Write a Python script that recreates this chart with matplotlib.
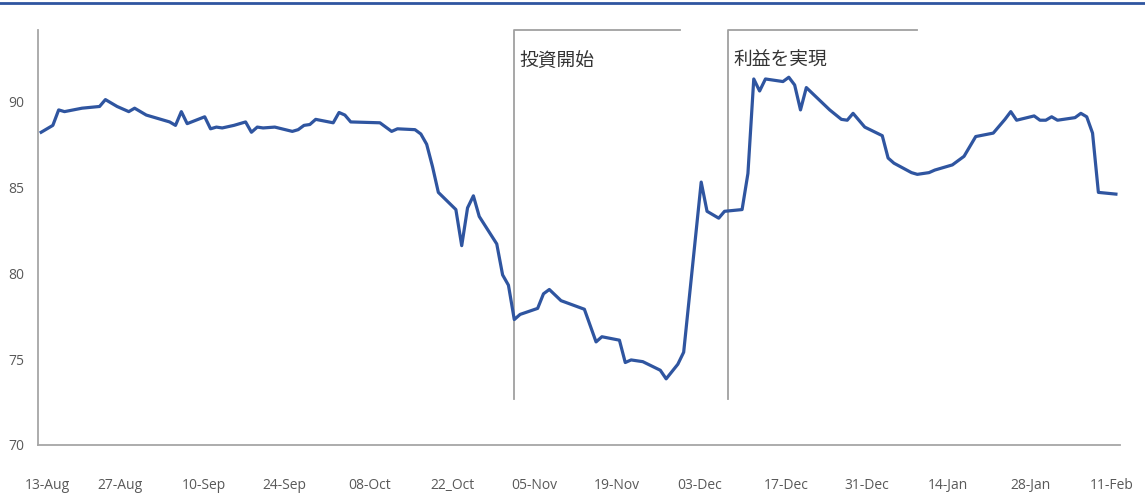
import matplotlib.pyplot as plt
from matplotlib.lines import Line2D

plt.rcParams['font.family'] = ['Open Sans', 'Noto Sans CJK JP', 'DejaVu Sans']

# days counted from 13-Aug and the index level at each turning point of the line
days = [-1, 0, 1, 2, 3, 6, 9, 10, 12, 14, 15, 17, 21, 22, 23, 24, 27, 28, 29, 30,
        32, 34, 35, 36, 37, 39, 42, 43, 44, 45, 46, 49, 50, 51, 52, 57, 59, 60, 63, 64,
        65, 66, 67, 70, 71, 72, 73, 74, 77, 78, 79, 80, 81, 84, 85, 86, 88, 92, 94, 95,
        98, 99, 100, 102, 105, 106, 108, 109, 112, 113, 115, 116, 119, 120, 121, 122, 123, 126, 127, 128,
        129, 130, 134, 136, 137, 138, 140, 143, 144, 145, 148, 149, 151, 152, 155, 157, 159, 162, 164, 165,
        166, 169, 170, 171, 172, 173, 176, 177, 178, 179, 180, 183]
values = [88.2, 88.4, 88.6, 89.5, 89.4, 89.6, 89.7, 90.1, 89.7, 89.4, 89.6, 89.2, 88.8, 88.6, 89.4, 88.7, 89.1, 88.4, 88.5, 88.45,
          88.6, 88.8, 88.2, 88.5, 88.45, 88.5, 88.25, 88.35, 88.6, 88.65, 88.95, 88.75, 89.35, 89.2, 88.8, 88.75, 88.25, 88.4, 88.35, 88.1,
          87.5, 86.2, 84.7, 83.7, 81.6, 83.8, 84.5, 83.3, 81.7, 79.9, 79.3, 77.3, 77.6, 77.95, 78.8, 79.05, 78.4, 77.9, 76.0, 76.3,
          76.1, 74.8, 74.95, 74.85, 74.35, 73.85, 74.7, 75.4, 85.3, 83.6, 83.2, 83.6, 83.7, 85.8, 91.3, 90.6, 91.3, 91.15, 91.4, 90.95,
          89.5, 90.8, 89.5, 88.95, 88.9, 89.3, 88.5, 88.0, 86.7, 86.4, 85.85, 85.75, 85.85, 86.0, 86.3, 86.8, 87.95, 88.15, 88.95, 89.4,
          88.9, 89.15, 88.9, 88.9, 89.1, 88.9, 89.05, 89.3, 89.1, 88.15, 84.7, 84.6]

tick_days = [0, 12.5, 26.9, 40.6, 55.3, 69.5, 83.4, 97.6, 111.8, 126.5, 140.4, 154.3, 168.3, 182.2]
tick_labels = ["13-Aug", "27-Aug", "10-Sep", "24-Sep", "08-Oct", "22_Oct", "05-Nov",
               "19-Nov", "03-Dec", "17-Dec", "31-Dec", "14-Jan", "28-Jan", "11-Feb"]

# bracket markers: label, day of the event, where the top rule ends
events = ["投資開始", "利益を実現"]
event_days = [80, 116.6]
event_ends = [108.4, 149.0]

W, H = 1145, 497
fig = plt.figure(figsize=(W / 100, H / 100), dpi=100)
ax = fig.add_axes([38 / W, 52 / H, 1082 / W, 415 / H])

ax.plot(days, values, color='#2F55A0', lw=2.3, solid_joinstyle='round', zorder=3)

ax.set_xlim(-1.54, 183.7)
ax.set_ylim(70, 94.15)
ax.set_yticks([70, 75, 80, 85, 90])
ax.set_xticks(tick_days)
ax.set_xticklabels(tick_labels)

for side in ['top', 'right']:
    ax.spines[side].set_visible(False)
for side in ['left', 'bottom']:
    ax.spines[side].set_color('#A6A6A6')
    ax.spines[side].set_linewidth(1.3)

ax.tick_params(axis='y', length=0, pad=10, labelsize=10, labelcolor='#595959')
ax.tick_params(axis='x', length=0, pad=24, labelsize=10, labelcolor='#595959')

for label, d, end in zip(events, event_days, event_ends):
    ax.plot([d, d, end], [72.7, 94.15, 94.15], color='#A0A0A0', lw=1.3,
            clip_on=False, zorder=2)
    ax.annotate(label, xy=(d, 92.4), xytext=(4, 0), textcoords='offset points',
                va='center', ha='left', fontsize=13.5, color='#333333',
                family=['Noto Sans CJK JP', 'DejaVu Sans'])

# blue rule across the top of the figure
fig.add_artist(Line2D([0, 1], [1 - 3 / H, 1 - 3 / H], color='#2F55A0', lw=2.0,
                      transform=fig.transFigure))

fig.savefig("out.png", dpi=100)
